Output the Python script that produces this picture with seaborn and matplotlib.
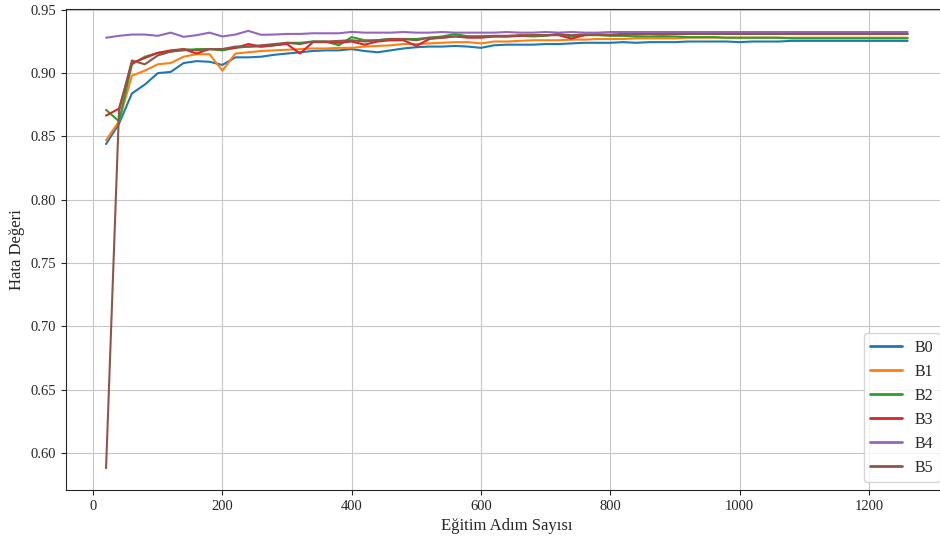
import matplotlib
matplotlib.use("Agg")
import matplotlib.pyplot as plt
import seaborn as sns
import pandas as pd

# training steps (every 20 steps)
steps = list(range(20, 1261, 20))

b0 = [0.844, 0.860, 0.884, 0.891, 0.900, 0.901, 0.908, 0.9095, 0.909, 0.9065,
      0.9125, 0.9125, 0.913, 0.9145, 0.9155, 0.9165, 0.9175, 0.918, 0.918, 0.919,
      0.9175, 0.9165, 0.918, 0.9195, 0.9205, 0.921, 0.921, 0.9215, 0.921, 0.920,
      0.922, 0.9225, 0.9225, 0.9225, 0.923, 0.923, 0.9235, 0.924, 0.924, 0.924,
      0.9245, 0.924, 0.9245, 0.9245, 0.9245, 0.925, 0.925, 0.925, 0.925, 0.9245,
      0.925, 0.925, 0.925, 0.9255, 0.9255, 0.9255, 0.9255, 0.9255, 0.9255, 0.9255,
      0.9255, 0.9255, 0.9255]
b1 = [0.847, 0.862, 0.898, 0.902, 0.907, 0.908, 0.913, 0.915, 0.915, 0.902,
      0.9155, 0.9165, 0.9175, 0.918, 0.9185, 0.919, 0.9195, 0.9195, 0.920, 0.920,
      0.921, 0.9215, 0.922, 0.923, 0.923, 0.9235, 0.924, 0.9245, 0.9245, 0.9235,
      0.925, 0.925, 0.9255, 0.926, 0.926, 0.926, 0.9265, 0.9265, 0.927, 0.927,
      0.927, 0.9275, 0.9275, 0.9275, 0.9275, 0.928, 0.928, 0.928, 0.928, 0.928,
      0.928, 0.928, 0.928, 0.928, 0.928, 0.928, 0.928, 0.928, 0.928, 0.928,
      0.928, 0.928, 0.928]
b2 = [0.871, 0.862, 0.907, 0.913, 0.916, 0.917, 0.918, 0.919, 0.919, 0.918,
      0.920, 0.921, 0.921, 0.922, 0.924, 0.924, 0.925, 0.925, 0.922, 0.9285,
      0.926, 0.926, 0.927, 0.927, 0.927, 0.928, 0.929, 0.931, 0.929, 0.929,
      0.929, 0.929, 0.9295, 0.929, 0.9295, 0.931, 0.929, 0.930, 0.930, 0.9295,
      0.9295, 0.929, 0.929, 0.929, 0.929, 0.9285, 0.9285, 0.9285, 0.928, 0.928,
      0.928, 0.928, 0.928, 0.9275, 0.9275, 0.9275, 0.9275, 0.9275, 0.9275, 0.9275,
      0.9275, 0.9275, 0.9275]
b3 = [0.8665, 0.872, 0.908, 0.912, 0.916, 0.918, 0.919, 0.9155, 0.919, 0.919,
      0.920, 0.923, 0.921, 0.922, 0.923, 0.9155, 0.9245, 0.9245, 0.924, 0.925,
      0.9225, 0.925, 0.926, 0.926, 0.9215, 0.927, 0.928, 0.929, 0.928, 0.928,
      0.929, 0.929, 0.9295, 0.930, 0.930, 0.930, 0.9273, 0.930, 0.9305, 0.930,
      0.9305, 0.931, 0.931, 0.9305, 0.931, 0.931, 0.931, 0.931, 0.931, 0.931,
      0.931, 0.931, 0.931, 0.931, 0.931, 0.931, 0.931, 0.931, 0.931, 0.931,
      0.931, 0.931, 0.931]
b4 = [0.928, 0.9295, 0.9305, 0.9305, 0.9295, 0.932, 0.9287, 0.930, 0.932, 0.929,
      0.9305, 0.9334, 0.9303, 0.9305, 0.931, 0.931, 0.9315, 0.9315, 0.9315, 0.9326,
      0.932, 0.932, 0.932, 0.9325, 0.932, 0.932, 0.9325, 0.932, 0.932, 0.932,
      0.932, 0.9325, 0.932, 0.932, 0.9325, 0.932, 0.9325, 0.932, 0.932, 0.9325,
      0.9325, 0.9325, 0.9325, 0.9325, 0.9325, 0.9325, 0.9325, 0.9325, 0.9325, 0.9325,
      0.9325, 0.9325, 0.9325, 0.9325, 0.9325, 0.9325, 0.9325, 0.9325, 0.9325, 0.9325,
      0.9325, 0.9325, 0.9325]
b5 = [0.588, 0.870, 0.910, 0.907, 0.914, 0.917, 0.919, 0.918, 0.919, 0.919,
      0.921, 0.921, 0.922, 0.923, 0.924, 0.923, 0.925, 0.925, 0.9255, 0.926,
      0.925, 0.926, 0.927, 0.927, 0.926, 0.928, 0.928, 0.929, 0.929, 0.929,
      0.9295, 0.9295, 0.930, 0.930, 0.930, 0.9305, 0.930, 0.9305, 0.9305, 0.9305,
      0.931, 0.9305, 0.931, 0.931, 0.931, 0.931, 0.931, 0.931, 0.931, 0.931,
      0.931, 0.931, 0.931, 0.931, 0.931, 0.931, 0.931, 0.931, 0.931, 0.931,
      0.931, 0.931, 0.931]

series = {"B0": b0, "B1": b1, "B2": b2, "B3": b3, "B4": b4, "B5": b5}

df = pd.concat(
    [pd.DataFrame({"step": steps, "value": vals, "model": name}) for name, vals in series.items()],
    ignore_index=True,
)

sns.set_style("ticks", {"axes.grid": True, "grid.color": "0.78", "axes.edgecolor": "0.15"})
plt.rcParams["font.family"] = ["Liberation Serif", "DejaVu Serif"]

fig = plt.figure(figsize=(9.4, 5.4), dpi=100)
ax = fig.add_axes([0.0702, 0.0926, 0.938, 0.8907])

sns.lineplot(data=df, x="step", y="value", hue="model",
             palette=sns.color_palette("tab10", 6), linewidth=1.5, ax=ax)

ax.set_xlabel("Eğitim Adım Sayısı", fontsize=12)
ax.set_ylabel("Hata Değeri", fontsize=12)
ax.tick_params(labelsize=10.5)
handles, labels = ax.get_legend_handles_labels()
leg = ax.legend(handles, labels, loc="lower right", fontsize=11.5)
for line in leg.get_lines():
    line.set_linewidth(2.0)

fig.savefig("out.png", dpi=100)
